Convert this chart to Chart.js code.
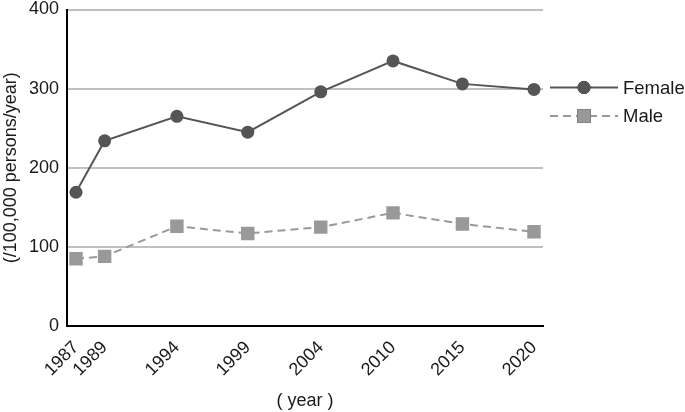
<!DOCTYPE html>
<html>
<head>
<meta charset="utf-8">
<script src="https://cdn.jsdelivr.net/npm/chart.js@4/dist/chart.umd.min.js"></script>
<style>
  html, body { margin: 0; padding: 0; background: #ffffff; }
  #wrap { width: 685px; height: 412px; }
</style>
</head>
<body>
<div id="wrap"><canvas id="c" width="685" height="412"></canvas></div>
<script>
// ---- data ----
const years = ['1987', '1989', '1994', '1999', '2004', '2010', '2015', '2020'];
// horizontal slot of each survey year on the reference axis (1987 sits just left of 1989)
const yearSlots = [0, 0.4, 1.41, 2.4, 3.42, 4.43, 5.4, 6.4];
const female = [169, 234, 265, 245, 296, 335, 306, 299];
const male = [85, 88, 126, 117, 125, 143, 129, 119];
const yTicks = [0, 100, 200, 300, 400];
const seriesNames = ['Female', 'Male'];
const yTitle = '(/100,000 persons/year)';
const xTitle = '( year )';

const FONT = "'Liberation Sans', Arial, sans-serif";

const toPoints = vals => vals.map((v, i) => ({ x: yearSlots[i], y: v }));

const legendPlugin = {
  id: 'lineLegend',
  afterDraw(chart) {
    const ctx = chart.ctx;
    const area = chart.chartArea;
    chart.data.datasets.forEach((ds, i) => {
      const y = area.top + 78 + i * 28.5;
      const x0 = area.right + 7;
      const x1 = area.right + 75;
      ctx.save();
      ctx.strokeStyle = ds.borderColor;
      ctx.lineWidth = ds.borderWidth;
      ctx.setLineDash(ds.borderDash || []);
      ctx.beginPath();
      ctx.moveTo(x0, y);
      ctx.lineTo(x1, y);
      ctx.stroke();
      ctx.setLineDash([]);
      Chart.helpers.drawPoint(ctx, {
        pointStyle: ds.pointStyle,
        radius: ds.pointRadius,
        borderWidth: 0,
        rotation: 0
      }, (x0 + x1) / 2, y);
      ctx.fillStyle = ds.pointBackgroundColor;
      ctx.fill();
      ctx.fillStyle = '#1a1a1a';
      ctx.font = '18.5px ' + FONT;
      ctx.textBaseline = 'middle';
      ctx.textAlign = 'left';
      ctx.fillText(ds.label, x1 + 5, y + 1);
      ctx.restore();
    });
  }
};

new Chart(document.getElementById('c'), {
  type: 'line',
  data: {
    datasets: [
      {
        label: seriesNames[0],
        data: toPoints(female),
        borderColor: '#555555',
        backgroundColor: '#555555',
        pointBackgroundColor: '#555555',
        pointBorderColor: '#555555',
        borderWidth: 2,
        pointStyle: 'circle',
        pointRadius: 6.5,
        pointBorderWidth: 0,
        tension: 0
      },
      {
        label: seriesNames[1],
        data: toPoints(male),
        borderColor: '#999999',
        backgroundColor: '#999999',
        pointBackgroundColor: '#999999',
        pointBorderColor: '#999999',
        borderWidth: 2,
        borderDash: [8, 5],
        pointStyle: 'rect',
        pointRadius: 9.5,
        pointBorderWidth: 0,
        tension: 0
      }
    ]
  },
  options: {
    responsive: false,
    animation: false,
    layout: { padding: { left: 0, right: 142, top: 7, bottom: 0 } },
    plugins: {
      legend: { display: false },
      tooltip: { enabled: false }
    },
    scales: {
      x: {
        type: 'linear',
        min: -0.126,
        max: 6.526,
        afterBuildTicks: scale => { scale.ticks = yearSlots.map(v => ({ value: v })); },
        afterFit: scale => { scale.height = 86; scale.paddingLeft = 0; scale.paddingRight = 0; },
        grid: { display: false, drawTicks: false },
        border: { display: true, color: '#000000', width: 2 },
        ticks: {
          autoSkip: false,
          minRotation: 45,
          maxRotation: 45,
          padding: 11,
          color: '#1a1a1a',
          font: { family: FONT, size: 18 },
          callback: (v, i) => years[i]
        },
        title: {
          display: true,
          text: xTitle,
          color: '#1a1a1a',
          font: { family: FONT, size: 18 },
          padding: { top: 0, bottom: 0 }
        }
      },
      y: {
        min: 0,
        max: 400,
        afterBuildTicks: scale => { scale.ticks = yTicks.map(v => ({ value: v })); },
        afterFit: scale => { scale.width = 67; scale.paddingTop = 0; scale.paddingBottom = 0; },
        grid: { color: '#c0c0c0', lineWidth: 2, drawTicks: false },
        border: { display: true, color: '#000000', width: 2 },
        ticks: {
          padding: 8,
          color: '#1a1a1a',
          font: { family: FONT, size: 18 }
        },
        title: {
          display: true,
          text: yTitle,
          color: '#1a1a1a',
          font: { family: FONT, size: 18 },
          padding: { top: 0, bottom: 0 }
        }
      }
    }
  },
  plugins: [legendPlugin]
});
</script>
</body>
</html>
